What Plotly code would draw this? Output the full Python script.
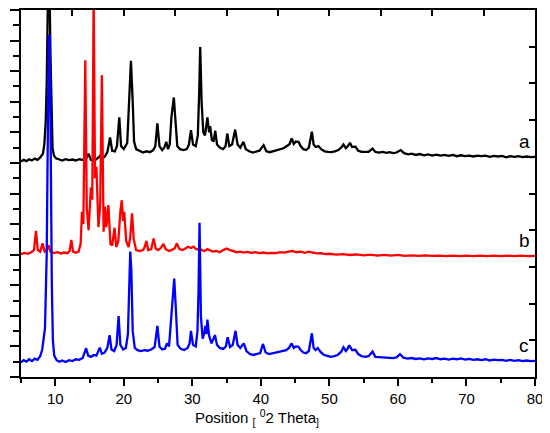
import plotly.graph_objects as go

# XRD patterns, stacked with vertical offsets (arbitrary units)
# a = black, b = red, c = blue
a_x = [5.0, 5.4, 5.8, 6.2, 6.6, 7.0, 7.4, 7.8, 8.2, 8.4, 8.6, 8.75, 8.9, 9.0, 9.15, 9.3, 9.45, 9.6, 9.8,
       10.1, 10.5, 11.0, 11.5, 12.0, 12.5, 13.0, 13.5, 14.0, 14.5, 14.85, 15.2, 15.6, 16.0, 16.5, 16.8,
       17.2, 17.6, 18.0, 18.3, 18.7, 19.0, 19.34, 19.6, 20.0, 20.5, 20.8, 21.04, 21.3, 21.5, 21.8, 22.3,
       22.8, 23.3, 23.8, 24.3, 24.6, 24.9, 25.2, 25.6, 25.9, 26.2, 26.45, 26.7, 26.95, 27.3, 27.55, 27.8,
       28.2, 28.7, 29.2, 29.5, 29.8, 30.1, 30.5, 30.8, 31.0, 31.15, 31.35, 31.6, 31.85, 32.2, 32.45, 32.6,
       32.85, 33.1, 33.35, 33.6, 34.0, 34.5, 34.85, 35.1, 35.4, 35.8, 36.25, 36.6, 37.0, 37.45, 37.8, 38.3,
       38.8, 39.3, 39.8, 40.4, 40.8, 41.3, 41.8, 42.3, 42.8, 43.3, 43.8, 44.2, 44.5, 44.8, 45.1, 45.5,
       45.8, 46.2, 46.6, 47.0, 47.44, 47.7, 48.0, 48.4, 48.8, 49.3, 49.8, 50.3, 50.8, 51.3, 51.7, 52.05,
       52.4, 52.7, 53.0, 53.3, 53.8, 54.2, 54.7, 55.2, 55.7, 56.3, 56.7, 57.2, 57.8, 58.3, 58.8, 59.3,
       59.8, 60.4, 60.9, 61.5, 62.0, 62.6, 63.2, 63.8, 64.4, 65.0, 65.6, 66.2, 66.8, 67.4, 68.0, 68.6,
       69.2, 69.8, 70.4, 71.0, 71.6, 72.2, 72.8, 73.4, 74.0, 74.6, 75.2, 75.8, 76.4, 77.0, 77.6, 78.2,
       78.8, 79.4, 80.0]
a_y = [7.05, 7.10, 7.06, 7.12, 7.08, 7.14, 7.10, 7.18, 7.30, 7.60, 8.30, 9.6, 12.0, 13.0, 13.0, 10.5, 8.4, 7.5, 7.25,
       7.15, 7.12, 7.08, 7.12, 7.09, 7.11, 7.08, 7.12, 7.10, 7.14, 7.30, 7.10, 7.08, 7.12, 7.22, 7.15,
       7.20, 7.35, 7.83, 7.40, 7.38, 7.55, 8.49, 7.55, 7.45, 7.65, 9.38, 10.34, 9.0, 7.7, 7.45, 7.40,
       7.34, 7.38, 7.35, 7.42, 7.55, 8.29, 7.55, 7.42, 7.50, 7.69, 7.45, 7.6, 8.5, 9.14, 8.3, 7.55,
       7.45, 7.42, 7.45, 7.6, 8.07, 7.6, 7.55, 7.9, 9.3, 10.79, 9.0, 8.0, 7.9, 8.49, 8.0, 8.2,
       7.75, 7.7, 8.05, 7.6, 7.5, 7.45, 7.55, 7.96, 7.55, 7.6, 8.09, 7.6, 7.5, 7.69, 7.45, 7.38,
       7.34, 7.36, 7.40, 7.58, 7.38, 7.35, 7.38, 7.42, 7.45, 7.48, 7.55, 7.62, 7.80, 7.62, 7.70, 7.69,
       7.55, 7.45, 7.42, 7.50, 8.02, 7.60, 7.52, 7.55, 7.45, 7.38, 7.36, 7.35, 7.38, 7.42, 7.50, 7.60,
       7.48, 7.55, 7.66, 7.52, 7.53, 7.40, 7.36, 7.35, 7.36, 7.47, 7.36, 7.34, 7.36, 7.33, 7.35, 7.32,
       7.34, 7.42, 7.32, 7.28, 7.30, 7.26, 7.29, 7.25, 7.28, 7.24, 7.27, 7.24, 7.26, 7.23, 7.26, 7.22,
       7.25, 7.22, 7.24, 7.21, 7.24, 7.22, 7.24, 7.20, 7.23, 7.21, 7.23, 7.18, 7.22, 7.20, 7.22, 7.19,
       7.21, 7.19, 7.20]

b_x = [5.0, 5.5, 6.0, 6.5, 6.9, 7.18, 7.45, 7.8, 8.15, 8.45, 8.8, 9.0, 9.3, 9.8, 10.3, 10.8, 11.3, 11.8,
       12.1, 12.34, 12.6, 13.0, 13.4, 13.7, 13.9, 14.1, 14.38, 14.6, 14.86, 15.05, 15.2, 15.4, 15.6, 15.8,
       16.0, 16.3, 16.55, 16.8, 17.05, 17.25, 17.45, 17.75, 18.05, 18.3, 18.65, 18.9, 19.2, 19.5, 19.7,
       19.9, 20.06, 20.35, 20.7, 20.95, 21.2, 21.45, 21.8, 22.3, 22.8, 23.05, 23.3, 23.55, 24.0, 24.35,
       24.65, 25.0, 25.4, 25.8, 26.1, 26.6, 27.0, 27.4, 27.75, 28.1, 28.6, 29.0, 29.4, 29.8, 30.2, 30.6,
       31.0, 31.4, 31.8, 32.2, 32.6, 33.0, 33.5, 34.0, 34.5, 35.0, 35.5, 36.0, 36.5, 37.0, 37.5, 38.0,
       38.6, 39.2, 39.8, 40.4, 41.0, 41.6, 42.2, 42.8, 43.4, 44.0, 44.6, 45.2, 45.8, 46.4, 47.0, 47.6,
       48.2, 48.8, 49.4, 50.0, 51.0, 52.0, 53.0, 54.0, 55.0, 56.0, 57.0, 58.0, 59.0, 60.0, 61.0, 62.0,
       63.0, 64.0, 65.0, 66.0, 67.0, 68.0, 69.0, 70.0, 71.0, 72.0, 73.0, 74.0, 75.0, 76.0, 77.0, 78.0,
       79.0, 80.0]
b_y = [4.02, 4.06, 4.03, 4.08, 4.15, 4.78, 4.15, 4.10, 4.37, 4.10, 4.15, 4.31, 4.10, 4.05, 4.08, 4.04, 4.07, 4.05,
       4.12, 4.48, 4.10, 4.06, 4.10, 4.35, 5.40, 5.0, 10.36, 5.5, 4.80, 5.6, 6.2, 5.8, 12.5, 6.5,
       6.87, 4.90, 5.6, 9.87, 4.75, 5.57, 4.90, 5.62, 4.35, 4.30, 4.88, 4.25, 4.45, 5.4, 5.78,
       5.1, 5.4, 4.45, 4.25, 4.6, 5.35, 4.50, 4.15, 4.12, 4.15, 4.25, 4.45, 4.15, 4.18, 4.53,
       4.20, 4.15, 4.22, 4.35, 4.18, 4.12, 4.15, 4.20, 4.37, 4.18, 4.15, 4.20, 4.26, 4.22, 4.26, 4.17,
       4.20, 4.15, 4.12, 4.18, 4.15, 4.10, 4.12, 4.08, 4.15, 4.20, 4.15, 4.12, 4.08, 4.10, 4.07, 4.09,
       4.06, 4.08, 4.05, 4.07, 4.04, 4.06, 4.05, 4.08, 4.07, 4.10, 4.12, 4.08, 4.10, 4.06, 4.10, 4.07,
       4.04, 4.05, 4.02, 4.03, 4.00, 4.02, 3.99, 4.01, 3.98, 4.00, 3.97, 3.99, 3.97, 3.99, 3.96, 3.98,
       3.96, 3.98, 3.96, 3.97, 3.95, 3.97, 3.95, 3.97, 3.95, 3.97, 3.95, 3.97, 3.95, 3.97, 3.95, 3.97,
       3.95, 3.96]

c_x = [5.0, 5.4, 5.8, 6.2, 6.6, 7.0, 7.4, 7.8, 8.1, 8.3, 8.5, 8.75, 8.9, 9.05, 9.2, 9.35, 9.5, 9.65, 9.85,
       10.2, 10.6, 11.0, 11.5, 12.0, 12.5, 13.0, 13.5, 14.0, 14.5, 14.8, 15.2, 15.6, 16.0, 16.5, 16.8,
       17.2, 17.6, 17.93, 18.2, 18.6, 18.95, 19.24, 19.5, 19.9, 20.3, 20.6, 20.8, 20.94, 21.1, 21.3, 21.6,
       22.0, 22.5, 23.0, 23.5, 24.0, 24.5, 24.9, 25.2, 25.6, 26.0, 26.3, 26.6, 26.9, 27.36, 27.6, 27.85,
       28.3, 28.8, 29.3, 29.6, 29.8, 30.1, 30.5, 30.75, 30.9, 31.05, 31.25, 31.5, 31.7, 31.9, 32.05, 32.2,
       32.45, 32.8, 33.3, 33.6, 34.0, 34.5, 34.9, 35.15, 35.5, 35.9, 36.3, 36.6, 37.0, 37.5, 37.9, 38.4,
       38.9, 39.4, 39.9, 40.3, 40.7, 41.2, 41.7, 42.2, 42.7, 43.2, 43.7, 44.1, 44.5, 44.8, 45.1, 45.5,
       45.8, 46.2, 46.6, 47.0, 47.44, 47.7, 48.0, 48.3, 48.7, 49.2, 49.7, 50.2, 50.7, 51.2, 51.7, 52.05,
       52.4, 52.65, 52.9, 53.3, 53.8, 54.2, 54.7, 55.2, 55.7, 56.3, 56.7, 57.2, 57.8, 58.3, 58.8, 59.3,
       59.8, 60.3, 60.8, 61.4, 62.0, 62.6, 63.2, 63.8, 64.4, 65.0, 65.6, 66.2, 66.8, 67.4, 68.0, 68.6,
       69.2, 69.8, 70.4, 71.0, 71.6, 72.2, 72.8, 73.4, 74.0, 74.6, 75.2, 75.8, 76.4, 77.0, 77.6, 78.2,
       78.8, 79.4, 80.0]
c_y = [0.48, 0.55, 0.50, 0.58, 0.52, 0.60, 0.56, 0.68, 0.90, 1.32, 1.6, 4.0, 8.0, 11.15, 11.15, 6.5, 3.0, 1.2, 0.70,
       0.55, 0.50, 0.54, 0.49, 0.55, 0.52, 0.58, 0.56, 0.62, 0.94, 0.70, 0.66, 0.72, 0.70, 0.96, 0.76,
       0.80, 0.95, 1.37, 0.90, 0.85, 1.05, 1.99, 1.05, 0.90, 0.95, 1.40, 2.84, 4.10, 3.5, 1.5, 0.95,
       0.88, 0.85, 0.88, 0.86, 0.90, 0.98, 1.67, 1.00, 0.90, 0.92, 1.10, 1.00, 1.80, 3.22, 2.20, 1.05,
       0.92, 0.88, 0.95, 1.10, 1.51, 1.05, 1.00, 1.50, 2.79, 5.04, 2.0, 1.25, 1.40, 1.67, 1.40, 1.88,
       1.35, 1.10, 1.37, 1.05, 0.95, 0.92, 1.00, 1.30, 0.98, 1.05, 1.51, 1.05, 0.95, 1.10, 0.85, 0.75,
       0.72, 0.74, 0.78, 1.08, 0.80, 0.75, 0.78, 0.80, 0.82, 0.85, 0.88, 0.95, 1.10, 0.95, 1.00, 0.99,
       0.88, 0.80, 0.78, 0.85, 1.43, 0.95, 0.88, 0.95, 0.82, 0.72, 0.68, 0.66, 0.68, 0.72, 0.82, 0.97,
       0.85, 0.92, 1.04, 0.88, 0.89, 0.75, 0.68, 0.66, 0.68, 0.83, 0.66, 0.65, 0.66, 0.63, 0.64, 0.62,
       0.64, 0.75, 0.63, 0.60, 0.62, 0.59, 0.61, 0.58, 0.61, 0.59, 0.62, 0.58, 0.60, 0.57, 0.60, 0.58,
       0.61, 0.57, 0.59, 0.56, 0.58, 0.55, 0.58, 0.54, 0.57, 0.55, 0.56, 0.53, 0.56, 0.53, 0.55, 0.52,
       0.54, 0.52, 0.53]

labels = ["a", "b", "c"]
label_y = [7.7, 4.46, 1.03]
x_ticks = [10, 20, 30, 40, 50, 60, 70, 80]

fig = go.Figure()
fig.add_trace(go.Scatter(x=a_x, y=a_y, mode="lines", line=dict(color="#000000", width=2.3)))
fig.add_trace(go.Scatter(x=b_x, y=b_y, mode="lines", line=dict(color="#ff0000", width=2.3)))
fig.add_trace(go.Scatter(x=c_x, y=c_y, mode="lines", line=dict(color="#0000ff", width=2.3)))
# empty traces so the top and right frame axes get drawn
fig.add_trace(go.Scatter(x=[], y=[], xaxis="x2", yaxis="y", hoverinfo="skip"))
fig.add_trace(go.Scatter(x=[], y=[], xaxis="x", yaxis="y2", hoverinfo="skip"))

for lab, ly in zip(labels, label_y):
    fig.add_annotation(x=78.4, y=ly, text=lab, showarrow=False, xref="x", yref="y",
                       font=dict(size=19, color="black"))

fig.add_annotation(x=0.459, y=-0.111, xref="paper", yref="paper", showarrow=False,
                   text="Position <sub>[</sub> <sup>0</sup>2 Theta<sub>]</sub>",
                   font=dict(size=15, color="black"), yanchor="middle")

# page body adds an 8px offset, so the figure is a bit smaller than the window
fig.update_layout(
    width=542, height=425,
    margin=dict(l=13, r=15, t=2, b=56),
    plot_bgcolor="white", paper_bgcolor="white",
    showlegend=False,
    font=dict(family="Liberation Sans, Arial", color="black"),
    xaxis=dict(range=[5, 80], tickvals=x_ticks, ticks="outside", ticklen=7, tickwidth=1.5,
               tickcolor="black", showline=True, linewidth=2, linecolor="black",
               showgrid=False, zeroline=False, tickfont=dict(size=15),
               minor=dict(dtick=5, tick0=5, ticks="outside", ticklen=4, tickwidth=1.5, tickcolor="black")),
    xaxis2=dict(range=[5, 80], overlaying="x", side="top", anchor="y", tick0=5, dtick=7.5,
                ticks="inside", ticklen=6, tickwidth=1.5, tickcolor="black", showticklabels=False,
                showline=True, linewidth=2, linecolor="black", showgrid=False, zeroline=False),
    yaxis=dict(range=[0, 12], dtick=1, tick0=0, ticks="outside", ticklen=9, tickwidth=1.5,
               tickcolor="black", showticklabels=False, showline=True, linewidth=2,
               linecolor="black", showgrid=False, zeroline=False,
               minor=dict(dtick=0.5, ticks="outside", ticklen=6, tickwidth=1.5, tickcolor="black")),
    yaxis2=dict(range=[0, 10], dtick=1, tick0=0, overlaying="y", side="right", anchor="x",
                ticks="inside", ticklen=6, tickwidth=1.5, tickcolor="black", showticklabels=False,
                showline=True, linewidth=2, linecolor="black", showgrid=False, zeroline=False),
)

fig.write_html("out.html")
